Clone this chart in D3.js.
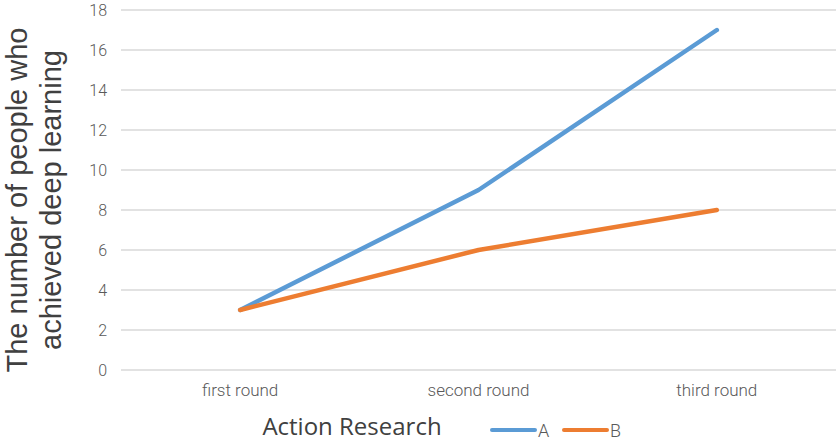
<!DOCTYPE html>
<html>
<head>
<meta charset="utf-8">
<script src="https://cdn.jsdelivr.net/npm/d3@7"></script>
<style>
  body { margin: 0; background: #fff; }
  svg { display: block; }
</style>
</head>
<body>
<div id="chart"></div>
<script>
// data
const rounds = ["first round", "second round", "third round"];
const seriesA = [3, 9, 17];
const seriesB = [3, 6, 8];
const yTicks = [0, 2, 4, 6, 8, 10, 12, 14, 16, 18];
const seriesNames = ["A", "B"];
const seriesColors = ["#5B9BD5", "#ED7D31"];

const width = 836, height = 441;
const margin = {top: 10, right: 0, bottom: 71, left: 121};

const svg = d3.select("#chart")
  .append("svg")
  .attr("width", width)
  .attr("height", height);

const x = d3.scaleBand()
  .domain(rounds)
  .range([margin.left, width - margin.right]);

const y = d3.scaleLinear()
  .domain([0, 18])
  .range([height - margin.bottom, margin.top]);

// gridlines
svg.append("g")
  .selectAll("line")
  .data(yTicks)
  .enter()
  .append("line")
    .attr("x1", margin.left)
    .attr("x2", width - margin.right)
    .attr("y1", d => y(d))
    .attr("y2", d => y(d))
    .style("stroke", "#d9d9d9")
    .style("stroke-width", 1.5);

// y tick labels
svg.append("g")
  .selectAll("text")
  .data(yTicks)
  .enter()
  .append("text")
    .attr("x", 107)
    .attr("y", d => y(d))
    .attr("dy", "0.36em")
    .attr("text-anchor", "end")
    .style("font-family", "Roboto, 'Liberation Sans', sans-serif")
    .style("font-weight", 300)
    .style("font-size", "16px")
    .style("fill", "#595959")
    .text(d => d);

// x tick labels
svg.append("g")
  .selectAll("text")
  .data(rounds)
  .enter()
  .append("text")
    .attr("x", d => x(d) + x.bandwidth() / 2)
    .attr("y", 396)
    .attr("text-anchor", "middle")
    .style("font-family", "Roboto, 'Liberation Sans', sans-serif")
    .style("font-weight", 300)
    .style("font-size", "17px")
    .style("fill", "#595959")
    .text(d => d);

// lines
const line = d3.line()
  .x((d, i) => x(rounds[i]) + x.bandwidth() / 2)
  .y(d => y(d));

[seriesA, seriesB].forEach(function (s, i) {
  svg.append("path")
    .datum(s)
    .attr("d", line)
    .style("fill", "none")
    .style("stroke", seriesColors[i])
    .style("stroke-width", 4.5)
    .style("stroke-linecap", "round")
    .style("stroke-linejoin", "round");
});

// y axis title
const yTitle = svg.append("text")
  .attr("transform", "translate(0,200) rotate(-90)")
  .attr("text-anchor", "middle")
  .style("font-family", "'Liberation Sans', Arial, sans-serif")
  .style("font-size", "29px")
  .style("fill", "#404040");
yTitle.append("tspan").attr("x", 0).attr("y", 27).text("The number of people who");
yTitle.append("tspan").attr("x", 0).attr("y", 61).text("achieved deep learning");

// x axis title
svg.append("text")
  .attr("x", 352)
  .attr("y", 435)
  .attr("text-anchor", "middle")
  .style("font-family", "'Open Sans', 'Liberation Sans', sans-serif")
  .style("font-size", "24px")
  .style("fill", "#404040")
  .text("Action Research");

// legend
const legendX = [492, 564];
seriesNames.forEach(function (name, i) {
  const g = svg.append("g").attr("transform", "translate(" + legendX[i] + ",430)");
  g.append("line")
    .attr("x1", 0).attr("x2", 43)
    .attr("y1", 0).attr("y2", 0)
    .style("stroke", seriesColors[i])
    .style("stroke-width", 4)
    .style("stroke-linecap", "round");
  g.append("text")
    .attr("x", 46)
    .attr("y", 7)
    .style("font-family", "Roboto, 'Liberation Sans', sans-serif")
    .style("font-weight", 300)
    .style("font-size", "18px")
    .style("fill", "#595959")
    .text(name);
});
</script>
</body>
</html>
